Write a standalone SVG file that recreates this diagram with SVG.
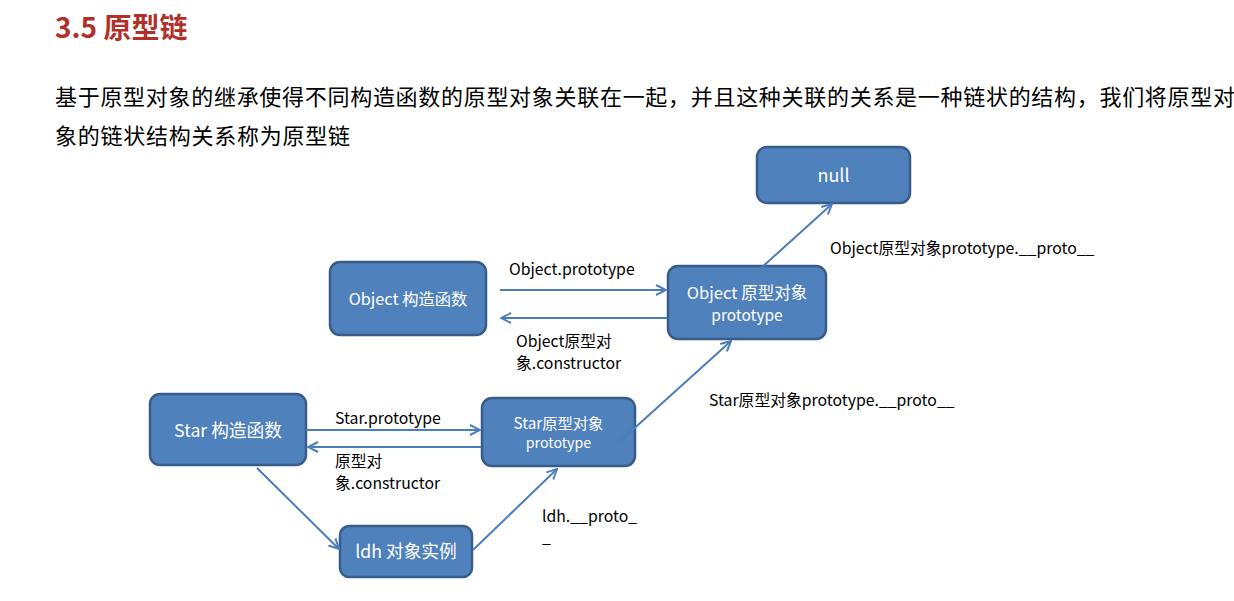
<svg xmlns="http://www.w3.org/2000/svg" width="1234" height="601" viewBox="0 0 1234 601">
<defs>
<marker id="arr" viewBox="0 0 12 12" refX="11" refY="6" markerWidth="12" markerHeight="12" markerUnits="userSpaceOnUse" orient="auto">
<path d="M1,1 L11,6 L1,11" fill="none" stroke="#4A7EBB" stroke-width="2"/>
</marker>
</defs>
<style>
text{font-family:"Noto Sans CJK SC","Noto Sans",sans-serif;}
.node rect{fill:#4F81BD;stroke:#385D8A;stroke-width:2.5;}
.node text{fill:#fff;text-anchor:middle;}
.conn line{stroke:#4A7EBB;stroke-width:2;marker-end:url(#arr);}
.lbl{fill:#000;font-size:15.8px;}
</style>
<rect width="1234" height="601" fill="#fff"/>
<text x="55" y="38" font-size="28" font-weight="bold" fill="#B0302A">3.5 原型链</text>
<text x="55" y="105" font-size="22" fill="#000" textLength="1180" lengthAdjust="spacing">基于原型对象的继承使得不同构造函数的原型对象关联在一起，并且这种关联的关系是一种链状的结构，我们将原型对</text>
<text x="55" y="144" font-size="22" fill="#000" textLength="295" lengthAdjust="spacing">象的链状结构关系称为原型链</text>

<g id="node-null" class="node"><rect x="757" y="147" width="153" height="56" rx="10"/><text x="833.5" y="182" font-size="18">null</text></g>
<g id="node-object-ctor" class="node"><rect x="330" y="262" width="156" height="73" rx="10"/><text x="408" y="305" font-size="16.3">Object 构造函数</text></g>
<g id="node-object-proto" class="node"><rect x="668" y="266" width="158" height="73" rx="10"/><text x="747" y="299" font-size="16.5">Object 原型对象</text><text x="747" y="321" font-size="15.5">prototype</text></g>
<g id="node-star-ctor" class="node"><rect x="150" y="394" width="156" height="71" rx="10"/><text x="228" y="437" font-size="17.7">Star 构造函数</text></g>
<g id="node-star-proto" class="node"><rect x="482" y="398" width="153" height="68" rx="10"/><text x="558.5" y="429" font-size="15.3">Star原型对象</text><text x="558.5" y="448" font-size="14.2">prototype</text></g>
<g id="node-ldh" class="node"><rect x="340" y="526" width="132" height="51" rx="9"/><text x="406" y="558" font-size="17.7">ldh 对象实例</text></g>

<g id="connectors" class="conn">
<line x1="500" y1="290" x2="666" y2="290"/>
<line x1="667" y1="318" x2="501" y2="318"/>
<line x1="306" y1="430" x2="480" y2="430"/>
<line x1="481" y1="447" x2="308" y2="447"/>
<line x1="257" y1="468" x2="339" y2="549"/>
<line x1="473" y1="550" x2="557" y2="469"/>
<line x1="618" y1="443" x2="731" y2="341"/>
<line x1="760" y1="269" x2="832" y2="204"/>
</g>

<g id="labels">
<text class="lbl" x="509" y="275">Object.prototype</text>
<text class="lbl"><tspan x="516" y="347">Object原型对</tspan><tspan x="516" y="369">象.constructor</tspan></text>
<text class="lbl" x="335" y="424">Star.prototype</text>
<text class="lbl"><tspan x="335" y="467">原型对</tspan><tspan x="335" y="489">象.constructor</tspan></text>
<text class="lbl" x="830" y="254">Object原型对象prototype.__proto__</text>
<text class="lbl" x="709" y="406">Star原型对象prototype.__proto__</text>
<text class="lbl"><tspan x="542" y="522">ldh.__proto_</tspan><tspan x="542" y="543">_</tspan></text>
</g>
</svg>
